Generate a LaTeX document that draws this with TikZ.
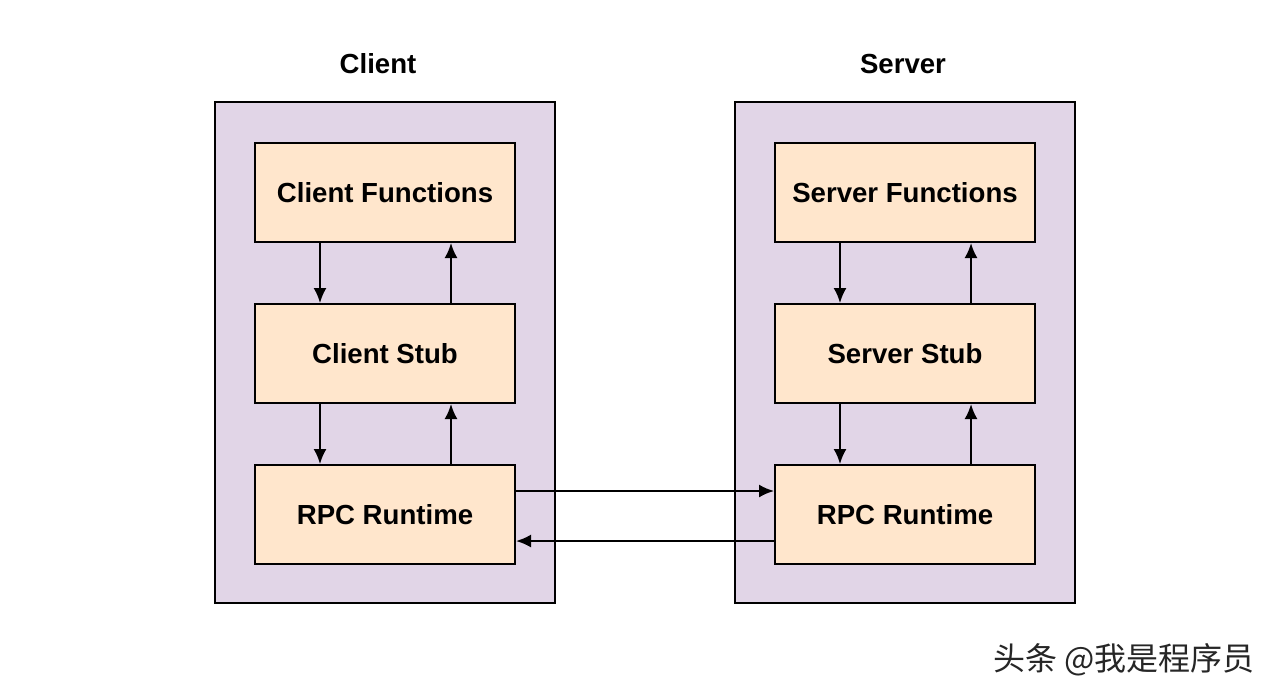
\documentclass[tikz,border=0pt]{standalone}
\usepackage{fontspec}
\setmainfont{Liberation Sans}
\newfontfamily\cjk{Noto Sans CJK SC}
\usetikzlibrary{positioning,arrows.meta}

\definecolor{hostfill}{HTML}{E1D5E7}
\definecolor{partfill}{HTML}{FFE6CC}

\begin{document}
\begin{tikzpicture}[> = {Latex[length=7.5pt,width=6.5pt]}, x=0.5pt, y=-0.5pt]
    \tikzset{
      host/.style={draw, fill=hostfill, line width=1pt, minimum width=170pt, minimum height=250.5pt},
      part/.style={draw, fill=partfill, line width=1pt, minimum width=130pt, minimum height=49.5pt,
        font=\fontsize{13.8}{16}\selectfont\bfseries},
      title/.style={font=\fontsize{13.8}{16}\selectfont\bfseries},
      link/.style={->, line width=1pt},
    }
    \useasboundingbox[fill=white] (0,0) rectangle (1278,698);

    % hosts
    \node [host] (client) at (385,352.5) {};
    \node [host] (server) at (905,352.5) {};
    \node [title] (clientT) at (378,64) {Client};
    \node [title] (serverT) at (903,64) {Server};

    % client side
    \node [part] (cf) at (385,192.5) {Client Functions};
    \node [part, below=30pt of cf] (cs) {Client Stub};
    \node [part, below=30pt of cs] (cr) {RPC Runtime};

    % server side
    \node [part] (sf) at (905,192.5) {Server Functions};
    \node [part, below=30pt of sf] (ss) {Server Stub};
    \node [part, below=30pt of ss] (sr) {RPC Runtime};

    % vertical links
    \foreach \a/\b in {cf/cs, cs/cr, sf/ss, ss/sr} {
      \draw [link] ([xshift=-32.5pt]\a.south) -- ([xshift=-32.5pt]\b.north);
      \draw [link] ([xshift=33pt]\b.north) -- ([xshift=33pt]\a.south);
    }

    % network
    \draw [link] ([yshift=11.75pt]cr.east) -- ([yshift=11.75pt]sr.west);
    \draw [link] ([yshift=-13.25pt]sr.west) -- ([yshift=-13.25pt]cr.west -| cr.east);

    \node [font=\cjk\fontsize{16}{18}\selectfont, text=black!85] (mark) at (1124,660) {头条 @我是程序员};
  \end{tikzpicture}
\end{document}
